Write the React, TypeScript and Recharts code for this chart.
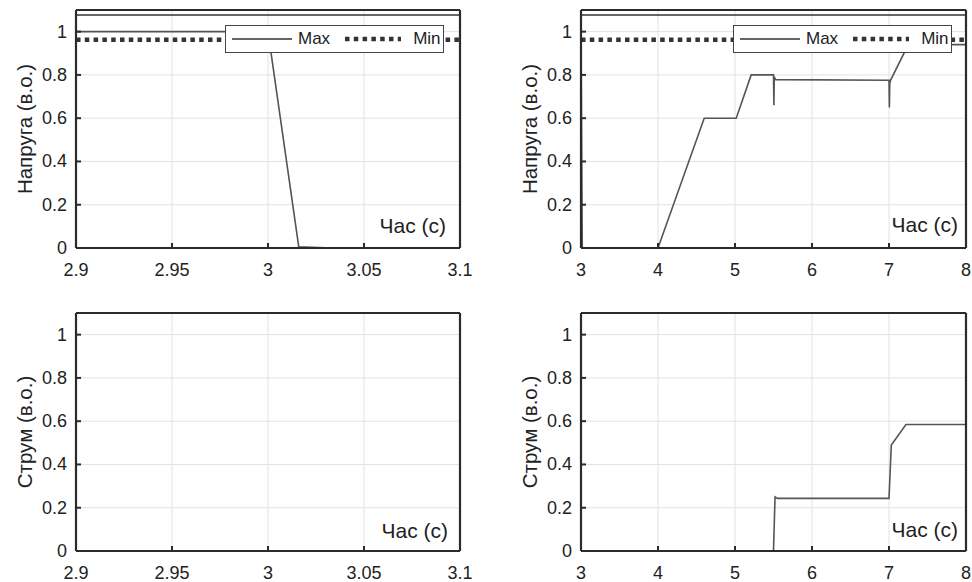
import React from 'react';
import { LineChart, Line, XAxis, YAxis, CartesianGrid, Legend, Label } from 'recharts';

// --- Axis ticks ---
const shortTicks = [2.9, 2.95, 3, 3.05, 3.1];
const longTicks = [3, 4, 5, 6, 7, 8];
const puTicks = [0, 0.2, 0.4, 0.6, 0.8, 1];

// --- Voltage limits (p.u.) ---
const vLimitMax = 1.077;
const vLimitMin = 0.963;

// --- Voltage, zoomed window 2.9..3.1 s ---
const voltShortTime = [2.9, 3.0, 3.016, 3.03, 3.1];
const voltShortValue = [1.0, 1.0, 0.006, 0.001, 0];

// --- Voltage, full window 3..8 s ---
const voltLongTime = [3, 3.016, 4.0, 4.6, 5.016, 5.21, 5.5, 5.505, 5.51, 5.53, 7.0, 7.005, 7.01, 7.02, 7.25, 8];
const voltLongValue = [1.0, 0, 0, 0.6, 0.6, 0.8, 0.8, 0.66, 0.79, 0.778, 0.775, 0.65, 0.76, 0.775, 0.94, 0.94];

// --- Current, zoomed window ---
const currShortTime = [2.9, 3.1];
const currShortValue = [0, 0];

// --- Current, full window ---
const currLongTime = [3, 5.5, 5.52, 5.55, 7.0, 7.03, 7.22, 8];
const currLongValue = [0, 0, 0.25, 0.243, 0.243, 0.49, 0.585, 0.585];

const FONT = '"Liberation Sans", Arial, Helvetica, sans-serif';
const TEXT = '#222';
const AXIS = '#2b2b2b';
const GRID = '#e2e2e2';
const SIGNAL = '#555';
const Y_TICK_GAP = 9;
const X_TICK_GAP = 28;

const zip = (t: number[], v: number[]) => t.map((x, i) => ({ t: x, v: v[i] }));

const YTick = ({ x, y, payload }: any) => (
  <g>
    <text x={x} y={y + 6} textAnchor="end" fill={TEXT} fontSize={18} fontFamily={FONT}>
      {payload.value}
    </text>
    <line x1={x + Y_TICK_GAP} x2={x + Y_TICK_GAP + 5} y1={y} y2={y} stroke={AXIS} strokeWidth={2} />
  </g>
);

const XTick = ({ x, y, payload }: any) => (
  <g>
    <text x={x} y={y} textAnchor="middle" fill={TEXT} fontSize={18} fontFamily={FONT}>
      {payload.value}
    </text>
    <line x1={x} x2={x} y1={y - X_TICK_GAP} y2={y - X_TICK_GAP - 5} stroke={AXIS} strokeWidth={2} />
  </g>
);

const NoLabel = () => <g />;

const LegendBox = ({ payload }: any) => (
  <div
    style={{
      width: 219, height: 28, boxSizing: 'border-box', border: '1px solid #444', background: '#fff',
      display: 'flex', alignItems: 'center', fontFamily: FONT, fontSize: 17, color: TEXT,
    }}
  >
    {(payload || []).filter((p: any) => p.type !== 'none' && p.value !== 'signal').map((p: any, i: number) => (
      <div key={i} style={{ display: 'flex', alignItems: 'center', marginLeft: i === 0 ? 6 : 15 }}>
        <svg width={i === 0 ? 60 : 56} height={10}>
          <line
            x1={0} x2={i === 0 ? 60 : 56} y1={5} y2={5}
            stroke={p.color}
            strokeWidth={p.payload?.strokeWidth}
            strokeDasharray={p.payload?.strokeDasharray}
          />
        </svg>
        <span style={{ marginLeft: i === 0 ? 6 : 12 }}>{p.value}</span>
      </div>
    ))}
  </div>
);

interface PanelProps {
  data: { t: number; v: number }[];
  ticks: number[];
  yLabel: string;
  yAxisWidth: number;
  marginTop: number;
  marginRight: number;
  marginBottom: number;
  limits?: boolean;
  legendLeft?: number;
  labelDx: number;
  labelDy: number;
}

const Panel: React.FC<PanelProps> = ({
  data, ticks, yLabel, yAxisWidth, marginTop, marginRight, marginBottom, limits, legendLeft, labelDx, labelDy,
}) => {
  const domain = [ticks[0], ticks[ticks.length - 1]];
  const maxData = domain.map(t => ({ t, v: vLimitMax }));
  const minData = domain.map(t => ({ t, v: vLimitMin }));

  return (
    <LineChart width={486} height={291} margin={{ top: marginTop, right: marginRight, bottom: marginBottom, left: 0 }}>
      <XAxis
        dataKey="t" type="number" domain={domain} ticks={ticks}
        height={30} tickSize={0} tickMargin={X_TICK_GAP} tickLine={false} tick={<XTick />}
        axisLine={{ stroke: AXIS, strokeWidth: 2.2 }}
      >
        <Label
          content={(p: any) => (
            <text
              x={p.viewBox.x + p.viewBox.width + labelDx} y={p.viewBox.y + labelDy}
              textAnchor="end" fill={TEXT} fontSize={21} fontFamily={FONT}
            >
              Час (с)
            </text>
          )}
        />
      </XAxis>
      <XAxis
        xAxisId="top" orientation="top" type="number" domain={domain} ticks={ticks}
        height={1} mirror tick={<NoLabel />} tickSize={5} tickLine={{ stroke: AXIS, strokeWidth: 2 }}
        axisLine={{ stroke: AXIS, strokeWidth: 2.2 }}
      />
      <YAxis
        type="number" domain={[0, 1.1]} ticks={puTicks}
        width={yAxisWidth} tickSize={0} tickMargin={Y_TICK_GAP} tickLine={false} tick={<YTick />}
        axisLine={{ stroke: AXIS, strokeWidth: 2.2 }}
      >
        <Label
          content={(p: any) => {
            const cx = p.viewBox.x + p.viewBox.width - 52;
            const cy = p.viewBox.y + p.viewBox.height / 2;
            return (
              <text
                x={cx} y={cy} transform={`rotate(-90 ${cx} ${cy})`} textAnchor="middle" dominantBaseline="central"
                fill={TEXT} fontSize={20.5} fontFamily={FONT}
              >
                {yLabel}
              </text>
            );
          }}
        />
      </YAxis>
      <YAxis
        yAxisId="right" orientation="right" type="number" domain={[0, 1.1]} ticks={puTicks}
        width={1} mirror tick={<NoLabel />} tickSize={5} tickLine={{ stroke: AXIS, strokeWidth: 2 }}
        axisLine={{ stroke: AXIS, strokeWidth: 2.2 }}
      />
      <CartesianGrid stroke={GRID} strokeWidth={1} />
      {limits && (
        <Line data={maxData} dataKey="v" name="Max" stroke="#333" strokeWidth={1.4} dot={false} isAnimationActive={false} />
      )}
      {limits && (
        <Line
          data={minData} dataKey="v" name="Min" stroke="#333" strokeWidth={4.5} strokeDasharray="4.5 4.3"
          dot={false} isAnimationActive={false}
        />
      )}
      <Line
        data={data} dataKey="v" name="signal" legendType="none" type="linear" stroke={SIGNAL} strokeWidth={1.6}
        dot={false} activeDot={false} isAnimationActive={false}
      />
      {limits && (
        <Legend
          layout="vertical" align="center" verticalAlign="middle" content={<LegendBox />}
          wrapperStyle={{ left: legendLeft, top: 25, width: 219 }}
        />
      )}
    </LineChart>
  );
};

export default function App() {
  return (
    <div style={{ position: 'absolute', left: 0, top: 0, width: 972, height: 582, background: '#fff' }}>
      <div style={{ position: 'absolute', left: 0, top: 0 }}>
        <Panel
          data={zip(voltShortTime, voltShortValue)} ticks={shortTicks} yLabel="Напруга (в.о.)"
          yAxisWidth={76} marginTop={10} marginRight={26} marginBottom={13}
          limits legendLeft={225} labelDx={-14} labelDy={-15}
        />
      </div>
      <div style={{ position: 'absolute', left: 486, top: 0 }}>
        <Panel
          data={zip(voltLongTime, voltLongValue)} ticks={longTicks} yLabel="Напруга (в.о.)"
          yAxisWidth={95} marginTop={10} marginRight={6} marginBottom={13}
          limits legendLeft={247} labelDx={-8} labelDy={-16}
        />
      </div>
      <div style={{ position: 'absolute', left: 0, top: 291 }}>
        <Panel
          data={zip(currShortTime, currShortValue)} ticks={shortTicks} yLabel="Струм (в.о.)"
          yAxisWidth={76} marginTop={22} marginRight={26} marginBottom={1}
          labelDx={-12} labelDy={-13}
        />
      </div>
      <div style={{ position: 'absolute', left: 486, top: 291 }}>
        <Panel
          data={zip(currLongTime, currLongValue)} ticks={longTicks} yLabel="Струм (в.о.)"
          yAxisWidth={95} marginTop={22} marginRight={6} marginBottom={1}
          labelDx={-8} labelDy={-14}
        />
      </div>
    </div>
  );
}
